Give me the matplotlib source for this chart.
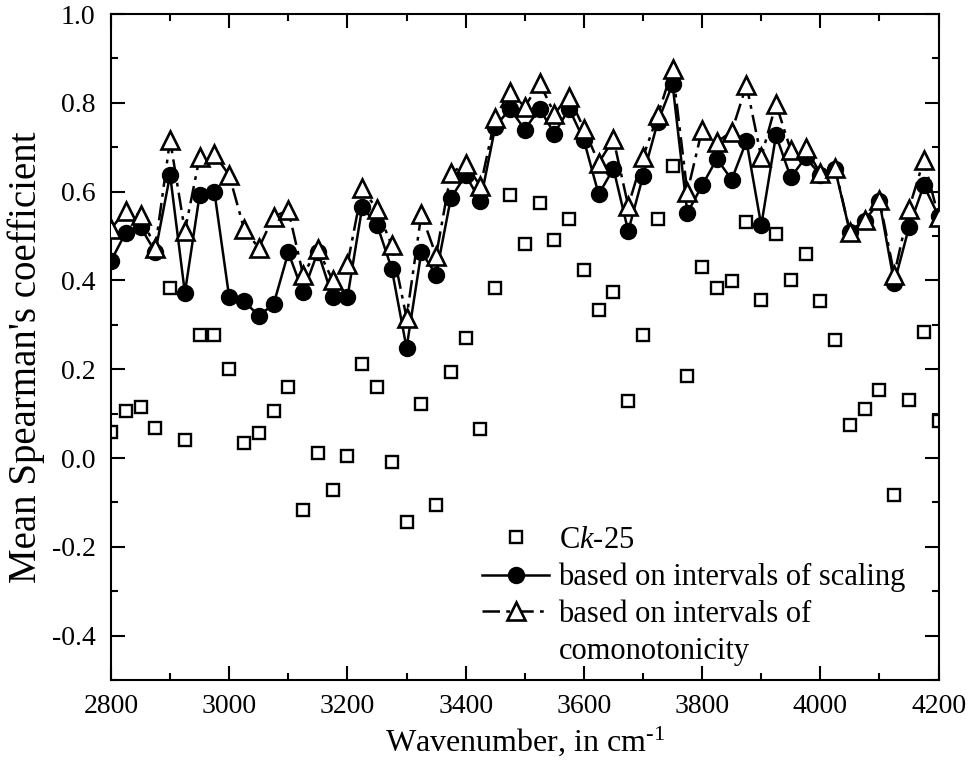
"""Mean Spearman's coefficient vs wavenumber: Ck-25 vs interval-based estimates."""
import matplotlib
matplotlib.use("Agg")
import matplotlib.pyplot as plt
from matplotlib.lines import Line2D
from matplotlib.ticker import MultipleLocator, FormatStrFormatter

plt.rcParams.update({
    "font.family": ["Liberation Serif", "DejaVu Serif"],
    "mathtext.fontset": "custom",
    "mathtext.rm": "Liberation Serif",
    "mathtext.it": "Liberation Serif:italic",
    "mathtext.default": "regular",
})

# data
wavenumber = [2800, 2825, 2850, 2875, 2900, 2925, 2950, 2975, 3000, 3025,
              3050, 3075, 3100, 3125, 3150, 3175, 3200, 3225, 3250, 3275,
              3300, 3325, 3350, 3375, 3400, 3425, 3450, 3475, 3500, 3525,
              3550, 3575, 3600, 3625, 3650, 3675, 3700, 3725, 3750, 3775,
              3800, 3825, 3850, 3875, 3900, 3925, 3950, 3975, 4000, 4025,
              4050, 4075, 4100, 4125, 4150, 4175, 4200]

ck25 = [0.058, 0.105, 0.116, 0.068, 0.383, 0.041, 0.277, 0.277, 0.201, 0.033,
        0.056, 0.105, 0.159, -0.116, 0.011, -0.073, 0.004, 0.212, 0.160, -0.010,
        -0.144, 0.122, -0.106, 0.193, 0.270, 0.065, 0.383, 0.593, 0.481, 0.574,
        0.490, 0.539, 0.424, 0.334, 0.375, 0.128, 0.277, 0.539, 0.657, 0.184,
        0.430, 0.383, 0.398, 0.532, 0.355, 0.505, 0.402, 0.460, 0.353, 0.266,
        0.074, 0.110, 0.153, -0.084, 0.131, 0.285, 0.084]

scaling = [0.444, 0.508, 0.520, 0.464, 0.638, 0.372, 0.593, 0.599, 0.362, 0.353,
           0.321, 0.346, 0.463, 0.373, 0.465, 0.362, 0.362, 0.565, 0.526, 0.426,
           0.248, 0.464, 0.413, 0.586, 0.637, 0.579, 0.746, 0.787, 0.740, 0.787,
           0.731, 0.787, 0.716, 0.594, 0.652, 0.511, 0.635, 0.757, 0.842, 0.552,
           0.614, 0.674, 0.627, 0.714, 0.524, 0.727, 0.632, 0.677, 0.638, 0.650,
           0.509, 0.535, 0.578, 0.394, 0.520, 0.614, 0.545]

comonotonicity = [0.517, 0.556, 0.547, 0.474, 0.717, 0.511, 0.678, 0.684, 0.637, 0.517,
                  0.473, 0.544, 0.558, 0.413, 0.471, 0.400, 0.436, 0.608, 0.560, 0.479,
                  0.316, 0.549, 0.456, 0.642, 0.663, 0.612, 0.767, 0.825, 0.791, 0.845,
                  0.776, 0.814, 0.742, 0.665, 0.718, 0.568, 0.678, 0.772, 0.877, 0.599,
                  0.740, 0.712, 0.735, 0.840, 0.678, 0.798, 0.693, 0.699, 0.641, 0.654,
                  0.509, 0.537, 0.582, 0.413, 0.562, 0.671, 0.543]

fig = plt.figure(figsize=(9.71, 7.82), dpi=100)
ax = fig.add_axes([0.1143, 0.1304, 0.8523, 0.8516])

ax.plot(wavenumber, ck25, ls="none", marker="s", ms=8, mfc="white",
        mec="black", mew=1.7, label="C$\\mathit{k}$-25", zorder=2)
ax.plot(wavenumber, scaling, color="black", lw=1.8, marker="o", ms=11.5,
        mfc="black", mec="black", label="based on intervals of scaling", zorder=3)
ax.plot(wavenumber, comonotonicity, color="black", lw=1.8, ls=(0, (7, 2.5, 1.5, 2.5)),
        marker="^", ms=13, mfc="white", mec="black", mew=1.9,
        label="based on intervals of", zorder=4)

ax.set_xlim(2800, 4200)
ax.set_ylim(-0.5, 1.0)
ax.xaxis.set_major_locator(MultipleLocator(200))
ax.xaxis.set_minor_locator(MultipleLocator(100))
ax.yaxis.set_major_locator(MultipleLocator(0.2))
ax.yaxis.set_minor_locator(MultipleLocator(0.1))
ax.yaxis.set_major_formatter(FormatStrFormatter("%.1f"))
ax.tick_params(which="both", direction="in", top=True, right=True, width=1.5,
               labelsize=20)
ax.tick_params(axis="x", which="both", pad=10)
ax.tick_params(axis="y", which="both", pad=11)
ax.tick_params(which="major", length=10)
ax.tick_params(which="minor", length=5)
for sp in ax.spines.values():
    sp.set_linewidth(1.5)

ax.set_xlabel("Wavenumber, in cm$^{\\text{-1}}$", fontsize=23)
ax.set_ylabel("Mean Spearman's coefficient", fontsize=28)
ax.xaxis.set_label_coords(0.5, -0.066)
ax.yaxis.set_label_coords(-0.080, 0.485)

# second line of the last label as its own legend row
handles, labels = ax.get_legend_handles_labels()
handles.append(Line2D([], [], ls="none", marker="none"))
labels.append("comonotonicity")
ax.legend(handles, labels, loc="upper left", bbox_to_anchor=(0.43, 0.254),
          frameon=False, fontsize=22, handlelength=2.2, handletextpad=0.3,
          labelspacing=0.25, borderpad=0, numpoints=1)

fig.savefig("out.png", dpi=100)
